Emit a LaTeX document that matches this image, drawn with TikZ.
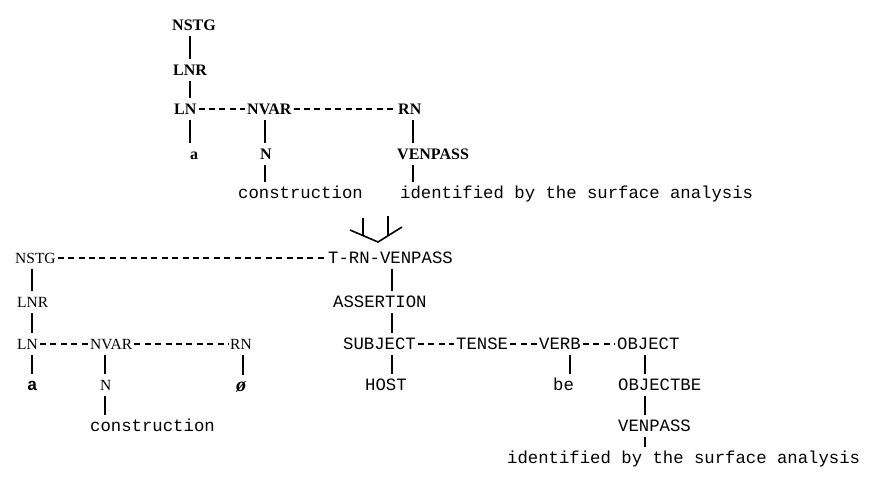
\documentclass[tikz,border=0pt]{standalone}
\usepackage{fontspec}
\setmainfont{Liberation Serif}
\setmonofont{Liberation Mono}
\begin{document}
\begin{tikzpicture}[x=1pt,y=-1pt,
  every node/.style={inner xsep=0pt, inner ysep=6pt, text height=10pt, text depth=0pt, anchor=base west},
  tb/.style={font=\fontsize{16}{16}\selectfont\bfseries},
  sr/.style={font=\fontsize{15.5}{15.5}\selectfont},
  tw/.style={font=\fontsize{17.3}{17.3}\selectfont\ttfamily},
  twb/.style={font=\fontsize{17.3}{17.3}\selectfont\ttfamily\bfseries},
  emp/.style={font=\fontsize{20}{20}\selectfont\bfseries\itshape},
  vline/.style={line width=1.2pt},
  hdash/.style={line width=1.4pt, dash pattern=on 6pt off 4.4pt, shorten <=2pt, shorten >=2pt},
  merge/.style={line width=1.6pt, line join=miter},
]
\useasboundingbox (0,0) rectangle (873,477);

% ---------- upper tree ----------
\node[tb] (tnstg) at (172,30) {NSTG};
\node[tb] (tlnr)  at (173,75) {LNR};
\node[tb] (tln)   at (174,114) {LN};
\node[tb] (tnvar) at (247,114) {NVAR};
\node[tb] (trn)   at (398,114) {RN};
\node[tb] (ta)    at (190,159) {a};
\node[tb] (tn)    at (260,159) {N};
\node[tb] (tven)  at (397,159) {VENPASS};
\node[tw] (tcon)  at (238,198) {construction};
\node[tw] (tid)   at (400,198) {identified by the surface analysis};

\coordinate (tv1) at (190,0);
\coordinate (tv2) at (265,0);
\coordinate (tv3) at (413,0);

\draw[vline] (tnstg.south -| tv1) -- (tlnr.north -| tv1);
\draw[vline] (tlnr.south -| tv1) -- (tln.north -| tv1);
\draw[vline] (tln.south -| tv1) -- (ta.north -| tv1);
\draw[vline] (tnvar.south -| tv2) -- (tn.north -| tv2);
\draw[vline] (tn.south -| tv2) -- (tcon.north -| tv2);
\draw[vline] (trn.south -| tv3) -- (tven.north -| tv3);
\draw[vline] (tven.south -| tv3) -- (tid.north -| tv3);
\draw[hdash] (tln.east) -- (tnvar.west);
\draw[hdash] (tnvar.east) -- (trn.west);

% ---------- merge symbol ----------
\coordinate (m1) at (350,230);
\coordinate (m2) at (378,242);
\coordinate (m3) at (402,227);
\draw[merge] (m1) -- (m2) -- (m3);
\draw[merge] (363,218) -- (363,236);
\draw[merge] (388,216) -- (388,236);

% ---------- lower tree, left ----------
\node[sr] (bnstg) at (15,263) {NSTG};
\node[sr] (blnr)  at (17,307) {LNR};
\node[sr] (bln)   at (17,349) {LN};
\node[sr] (bnvar) at (90,349) {NVAR};
\node[sr] (brn)   at (230,349) {RN};
\node[twb] (ba)   at (27,390) {a};
\node[sr] (bn)    at (100,390) {N};
\node[emp] (bemp) at (236,391) {ø};
\node[tw] (bcon)  at (90,431) {construction};

\coordinate (bv1) at (32,0);
\coordinate (bv2) at (105,0);
\coordinate (bv3) at (243,0);

\draw[vline] (bnstg.south -| bv1) -- (blnr.north -| bv1);
\draw[vline] (blnr.south -| bv1) -- (bln.north -| bv1);
\draw[vline] (bln.south -| bv1) -- (ba.north -| bv1);
\draw[vline] (bnvar.south -| bv2) -- (bn.north -| bv2);
\draw[vline] (bn.south -| bv2) -- (bcon.north -| bv2);
\draw[vline] (brn.south -| bv3) -- (bemp.north -| bv3);
\draw[hdash] (bln.east) -- (bnvar.west);
\draw[hdash] (bnvar.east) -- (brn.west);

% ---------- lower tree, right ----------
\node[tw] (trv)   at (328,263) {T-RN-VENPASS};
\node[tw] (ass)   at (333,307) {ASSERTION};
\node[tw] (subj)  at (343,349) {SUBJECT};
\node[tw] (tense) at (456,349) {TENSE};
\node[tw] (verb)  at (539,349) {VERB};
\node[tw] (obj)   at (617,349) {OBJECT};
\node[tw] (host)  at (365,390) {HOST};
\node[tw] (be)    at (553,390) {be};
\node[tw] (objbe) at (618,390) {OBJECTBE};
\node[tw] (bven)  at (618,431) {VENPASS};
\node[tw] (bid)   at (507,463) {identified by the surface analysis};

\coordinate (rv1) at (392,0);
\coordinate (rv2) at (570,0);
\coordinate (rv3) at (645,0);

\draw[hdash] (bnstg.east) -- (trv.west);
\draw[vline] (trv.south -| rv1) -- (ass.north -| rv1);
\draw[vline] (ass.south -| rv1) -- (subj.north -| rv1);
\draw[vline] (subj.south -| rv1) -- (host.north -| rv1);
\draw[hdash] (subj.east) -- (tense.west);
\draw[hdash] (tense.east) -- (verb.west);
\draw[hdash] (verb.east) -- (obj.west);
\draw[vline] (verb.south -| rv2) -- (be.north -| rv2);
\draw[vline] (obj.south -| rv3) -- (objbe.north -| rv3);
\draw[vline] (objbe.south -| rv3) -- (bven.north -| rv3);
\draw[vline] (bven.south -| rv3) -- (bid.north -| rv3);
\end{tikzpicture}
\end{document}
